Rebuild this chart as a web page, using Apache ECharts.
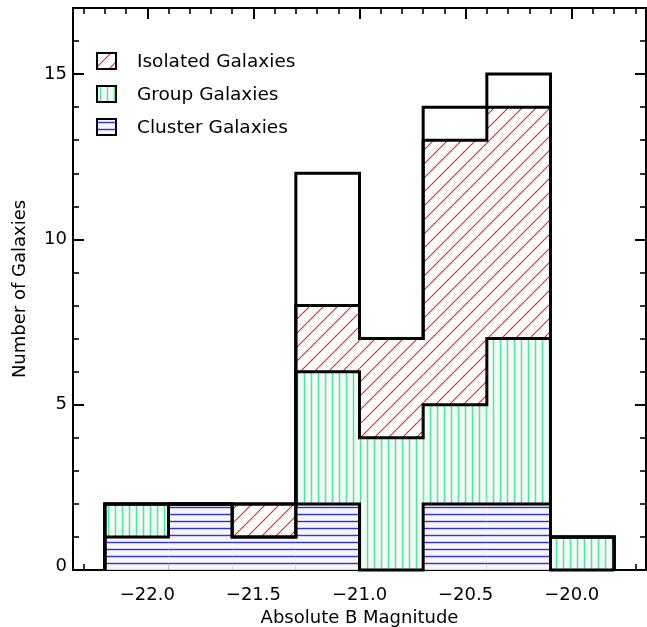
<!DOCTYPE html>
<html>
<head>
<meta charset="utf-8">
<script src="https://cdn.jsdelivr.net/npm/echarts@6/dist/echarts.min.js"></script>
<style>
  html, body { margin: 0; padding: 0; background: #fff; }
  #chart { width: 647px; height: 627px; }
</style>
</head>
<body>
<div id="chart"></div>
<script>
// Histogram of absolute B magnitudes, split by environment.
const binEdges = [-22.2, -21.9, -21.6, -21.3, -21.0, -20.7, -20.4, -20.1, -19.8];
const clusterCounts  = [1, 2, 1, 2, 0, 2, 2, 0];
const groupCounts    = [1, 0, 0, 4, 4, 3, 5, 1];
const isolatedCounts = [0, 0, 1, 2, 3, 8, 7, 0];
const totalCounts    = [2, 2, 2, 12, 7, 14, 15, 1];

const legendNames = ['Isolated Galaxies', 'Group Galaxies', 'Cluster Galaxies'];
const xTickValues = [-22.0, -21.5, -21.0, -20.5, -20.0];
const yTickValues = [0, 5, 10, 15];

const X_MIN = -22.35, X_MAX = -19.65, Y_MIN = 0, Y_MAX = 17;
const FONT = 'DejaVu Sans';

// minor tick positions (0.1 mag along x, 1 count along y)
const xMinorTicks = [];
for (let i = 0; i < 27; i++) {
  const v = Math.round((X_MIN + 0.05 + i * 0.1) * 100) / 100;
  if (v > X_MIN && v < X_MAX && Math.abs(v * 2 - Math.round(v * 2)) > 1e-6) xMinorTicks.push(v);
}
const yMinorTicks = [];
for (let v = 1; v < Y_MAX; v++) if (v % 5 !== 0) yMinorTicks.push(v);

// hatch fill patterns
function makeHatch(kind) {
  const c = document.createElement('canvas');
  const ctx = c.getContext('2d');
  if (kind === 'diag') {
    c.width = 14; c.height = 14;
    ctx.fillStyle = 'rgb(255,255,255)';
    ctx.fillRect(0, 0, 14, 14);
    ctx.strokeStyle = 'rgb(255,20,20)';
    ctx.lineWidth = 1.05;
    ctx.beginPath();
    ctx.moveTo(-2, 16); ctx.lineTo(16, -2);
    ctx.moveTo(-2, 2); ctx.lineTo(2, -2);
    ctx.moveTo(12, 16); ctx.lineTo(16, 12);
    ctx.stroke();
  } else if (kind === 'vert') {
    c.width = 7; c.height = 7;
    ctx.fillStyle = 'rgb(247,247,247)';
    ctx.fillRect(0, 0, 7, 7);
    ctx.strokeStyle = 'rgb(60,240,160)';
    ctx.lineWidth = 1.5;
    ctx.beginPath();
    ctx.moveTo(3.5, 0); ctx.lineTo(3.5, 7);
    ctx.stroke();
  } else {
    c.width = 7; c.height = 7;
    ctx.fillStyle = 'rgb(247,247,247)';
    ctx.fillRect(0, 0, 7, 7);
    ctx.strokeStyle = 'rgb(47,47,238)';
    ctx.lineWidth = 1.4;
    ctx.beginPath();
    ctx.moveTo(0, 3.5); ctx.lineTo(7, 3.5);
    ctx.stroke();
  }
  return { image: c, repeat: 'repeat' };
}
const hatchIsolated = makeHatch('diag');
const hatchGroup = makeHatch('vert');
const hatchCluster = makeHatch('horiz');

// stacked segments: [x0, x1, y0, y1]
function segments(lowerArrays, counts) {
  const out = [];
  counts.forEach((n, i) => {
    if (n <= 0) return;
    let base = 0;
    lowerArrays.forEach(a => { base += a[i]; });
    out.push([binEdges[i], binEdges[i + 1], base, base + n]);
  });
  return out;
}
const clusterSegs = segments([], clusterCounts);
const groupSegs = segments([clusterCounts], groupCounts);
const isolatedSegs = segments([clusterCounts, groupCounts], isolatedCounts);

// cumulative levels for the step outlines
const cum1 = clusterCounts.slice();
const cum2 = cum1.map((v, i) => v + groupCounts[i]);
const cum3 = cum2.map((v, i) => v + isolatedCounts[i]);
const outlineLevels = [cum1, cum2, cum3, totalCounts];

function rectRenderer(fill) {
  return function (params, api) {
    const p0 = api.coord([api.value(0), api.value(3)]);
    const p1 = api.coord([api.value(1), api.value(2)]);
    return {
      type: 'rect',
      shape: { x: p0[0], y: p0[1], width: p1[0] - p0[0], height: p1[1] - p0[1] },
      style: { fill: fill, stroke: null }
    };
  };
}

function outlineRenderer(params, api) {
  const h = outlineLevels[params.dataIndex];
  const pts = [api.coord([binEdges[0], 0])];
  h.forEach((v, i) => {
    pts.push(api.coord([binEdges[i], v]));
    pts.push(api.coord([binEdges[i + 1], v]));
  });
  pts.push(api.coord([binEdges[binEdges.length - 1], 0]));
  return {
    type: 'polyline',
    shape: { points: pts },
    style: { stroke: '#000', lineWidth: 3, fill: null, lineJoin: 'miter' }
  };
}

const tickStyle = { color: '#000', width: 2 };
const minorStyle = { color: '#000', width: 1.6 };

function xAxisPair(position) {
  const major = {
    type: 'value', min: X_MIN, max: X_MAX, position: position,
    axisLine: { show: true, onZero: false, lineStyle: { color: '#000', width: 2 } },
    axisTick: { show: true, inside: true, length: 11, customValues: xTickValues, lineStyle: tickStyle },
    axisLabel: { show: false },
    splitLine: { show: false }
  };
  const minor = {
    type: 'value', min: X_MIN, max: X_MAX, position: position,
    axisLine: { show: false, onZero: false },
    axisTick: { show: true, inside: true, length: 6, customValues: xMinorTicks, lineStyle: minorStyle },
    axisLabel: { show: false },
    splitLine: { show: false }
  };
  return [major, minor];
}
function yAxisPair(position) {
  const major = {
    type: 'value', min: Y_MIN, max: Y_MAX, position: position,
    axisLine: { show: true, onZero: false, lineStyle: { color: '#000', width: 2 } },
    axisTick: { show: true, inside: true, length: 11, customValues: yTickValues, lineStyle: tickStyle },
    axisLabel: { show: false },
    splitLine: { show: false }
  };
  const minor = {
    type: 'value', min: Y_MIN, max: Y_MAX, position: position,
    axisLine: { show: false, onZero: false },
    axisTick: { show: true, inside: true, length: 6, customValues: yMinorTicks, lineStyle: minorStyle },
    axisLabel: { show: false },
    splitLine: { show: false }
  };
  return [major, minor];
}

const xAxes = xAxisPair('bottom').concat(xAxisPair('top'));
xAxes[0].axisLabel = {
  show: true, customValues: xTickValues, margin: 16,
  color: '#000', fontFamily: FONT, fontSize: 18,
  formatter: v => (v < 0 ? '\u2212' : '') + Math.abs(v).toFixed(1)
};
xAxes[0].name = 'Absolute B Magnitude';
xAxes[0].nameLocation = 'middle';
xAxes[0].nameGap = 36;
xAxes[0].nameTextStyle = { color: '#000', fontFamily: FONT, fontSize: 18 };

const yAxes = yAxisPair('left').concat(yAxisPair('right'));
yAxes[0].axisLabel = {
  show: true, customValues: yTickValues, margin: 6,
  color: '#000', fontFamily: FONT, fontSize: 18,
  formatter: v => (v === 0 ? '{z|0}' : String(v)),
  rich: { z: { fontFamily: FONT, fontSize: 18, color: '#000', padding: [0, 0, 8, 0] } }
};
yAxes[0].name = 'Number of Galaxies';
yAxes[0].nameLocation = 'middle';
yAxes[0].nameGap = 44;
yAxes[0].nameTextStyle = { color: '#000', fontFamily: FONT, fontSize: 18 };

// legend boxes and labels
const legendFills = [hatchIsolated, hatchGroup, hatchCluster];
const legendTop = [52, 85, 118];
const legendGraphics = [];
legendNames.forEach((name, i) => {
  legendGraphics.push({
    type: 'rect', left: 96, top: legendTop[i], z: 10,
    shape: { width: 19, height: 16 },
    style: { fill: legendFills[i], stroke: '#000', lineWidth: 2 }
  });
  legendGraphics.push({
    type: 'text', x: 137, y: legendTop[i] + 10, z: 10,
    style: { text: name, fill: '#000', font: '18.5px "' + FONT + '"', textVerticalAlign: 'middle' }
  });
});

const chart = echarts.init(document.getElementById('chart'), null, { renderer: 'canvas' });
chart.setOption({
  animation: false,
  backgroundColor: '#fff',
  grid: { left: 73, right: 1, top: 8, bottom: 57, containLabel: false, outerBoundsMode: 'none' },
  xAxis: xAxes,
  yAxis: yAxes,
  graphic: legendGraphics,
  series: [
    { type: 'custom', name: 'Cluster Galaxies', renderItem: rectRenderer(hatchCluster),
      data: clusterSegs, encode: { x: [0, 1], y: [2, 3] }, z: 3 },
    { type: 'custom', name: 'Group Galaxies', renderItem: rectRenderer(hatchGroup),
      data: groupSegs, encode: { x: [0, 1], y: [2, 3] }, z: 3 },
    { type: 'custom', name: 'Isolated Galaxies', renderItem: rectRenderer(hatchIsolated),
      data: isolatedSegs, encode: { x: [0, 1], y: [2, 3] }, z: 3 },
    { type: 'custom', name: 'outlines', renderItem: outlineRenderer,
      data: outlineLevels.map((_, i) => [binEdges[0], i]), encode: { x: 0 }, z: 4 }
  ]
});
</script>
</body>
</html>
